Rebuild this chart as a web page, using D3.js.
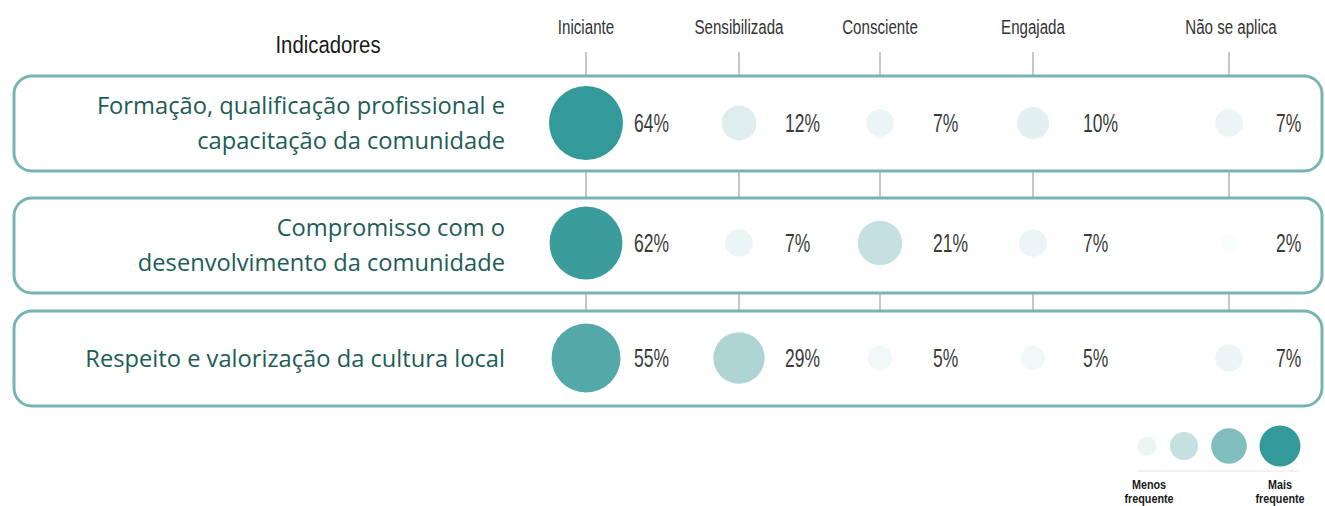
<!DOCTYPE html>
<html><head><meta charset="utf-8">
<script src="https://cdn.jsdelivr.net/npm/d3@7"></script>
<style>body{margin:0;background:#fff}svg{display:block}</style>
</head><body>
<svg id="c" width="1325" height="506"></svg>
<script>
const indicators = [
  ["Formação, qualificação profissional e", "capacitação da comunidade"],
  ["Compromisso com o", "desenvolvimento da comunidade"],
  ["Respeito e valorização da cultura local"]
];
const levels = ["Iniciante", "Sensibilizada", "Consciente", "Engajada", "Não se aplica"];
const values = [
  [64, 12, 7, 10, 7],
  [62, 7, 21, 7, 2],
  [55, 29, 5, 5, 7]
];
const legendValues = [7, 21, 42, 64];
const legendLabels = [["Menos", "frequente"], ["Mais", "frequente"]];

const svg = d3.select("#c");
const cond = "'Liberation Sans', Arial, sans-serif";
const labelFont = "'Open Sans', sans-serif";

// measured column centres (layout)
const colX = d3.scaleOrdinal().domain(levels).range([586, 739, 880, 1033, 1229]);
const labelOffset = [48, 46, 53, 50, 47];
const boxTop = [76, 198, 311];
const boxH = 95;
const circleY = d3.scaleOrdinal().domain([0, 1, 2]).range([123, 243, 358]);
const r = d3.scaleSqrt().domain([0, 64]).range([2.4, 37]);
const color = d3.scaleLinear().domain([0, 29, 64]).range(["#ffffff", "#afd4d4", "#339a99"]);

function condText(sel, x, y, sx) {
  return sel.attr("transform", `translate(${x},${y}) scale(${sx},1)`);
}

// header
condText(svg.append("text"), 328, 53, 0.83).attr("text-anchor", "middle")
  .attr("font-family", cond).attr("font-size", 24.5).attr("fill", "#1a1a1a").text("Indicadores");
levels.forEach(l => {
  condText(svg.append("text"), colX(l) + (l === "Não se aplica" ? 2 : 0), 34, 0.72)
    .attr("text-anchor", "middle").attr("font-family", cond).attr("font-size", 21)
    .attr("fill", "#333").text(l);
});

// tick lines
const tickSegs = [[52, 76], [171, 198], [293, 311]];
levels.forEach(l => {
  tickSegs.forEach(s => {
    svg.append("line").attr("x1", colX(l)).attr("x2", colX(l)).attr("y1", s[0]).attr("y2", s[1])
      .attr("stroke", "#b5b5b5").attr("stroke-width", 1.5);
  });
});

// boxes + row labels
indicators.forEach((lines, i) => {
  svg.append("rect").attr("x", 14).attr("y", boxTop[i]).attr("width", 1308).attr("height", boxH)
    .attr("rx", 18).attr("ry", 18).attr("fill", "#fff").attr("stroke", "#78b4b1").attr("stroke-width", 3);
  const cy = boxTop[i] + boxH / 2;
  const lh = 35;
  const t = svg.append("text").attr("text-anchor", "end").attr("font-family", labelFont)
    .attr("font-size", 23.7).attr("fill", "#1e5c57");
  lines.forEach((ln, j) => {
    t.append("tspan").attr("x", 505).attr("y", cy + 8 + (j - (lines.length - 1) / 2) * lh).text(ln);
  });
});

// circles and value labels
values.forEach((row, i) => {
  const g = svg.append("g");
  g.selectAll("circle").data(row).join("circle")
    .attr("cx", (d, j) => colX(levels[j])).attr("cy", circleY(i))
    .attr("r", d => r(d)).attr("fill", d => color(d));
  g.selectAll("text").data(row).join("text")
    .attr("transform", (d, j) => `translate(${colX(levels[j]) + labelOffset[j]},${circleY(i) + 8.5}) scale(0.7,1)`)
    .attr("font-family", cond).attr("font-size", 25).attr("fill", "#3a3a3a")
    .text(d => d + "%");
});

// legend
const lx = [1147, 1184, 1229, 1280];
const lr = [9.5, 14, 17.8, 20.5];
svg.selectAll("circle.leg").data(legendValues).join("circle").attr("class", "leg")
  .attr("cx", (d, i) => lx[i]).attr("cy", 446)
  .attr("r", (d, i) => lr[i]).attr("fill", d => color(d));
svg.append("line").attr("x1", 1137).attr("x2", 1298).attr("y1", 471).attr("y2", 471)
  .attr("stroke", "#ececec").attr("stroke-width", 1.5);
[[1149, legendLabels[0]], [1280, legendLabels[1]]].forEach(([cx, ls]) => {
  ls.forEach((l, j) => {
    condText(svg.append("text"), cx, 489 + j * 14, 0.8).attr("text-anchor", "middle")
      .attr("font-family", cond).attr("font-size", 13.5).attr("font-weight", "bold")
      .attr("fill", "#1a1a1a").text(l);
  });
});
</script>
</body></html>
